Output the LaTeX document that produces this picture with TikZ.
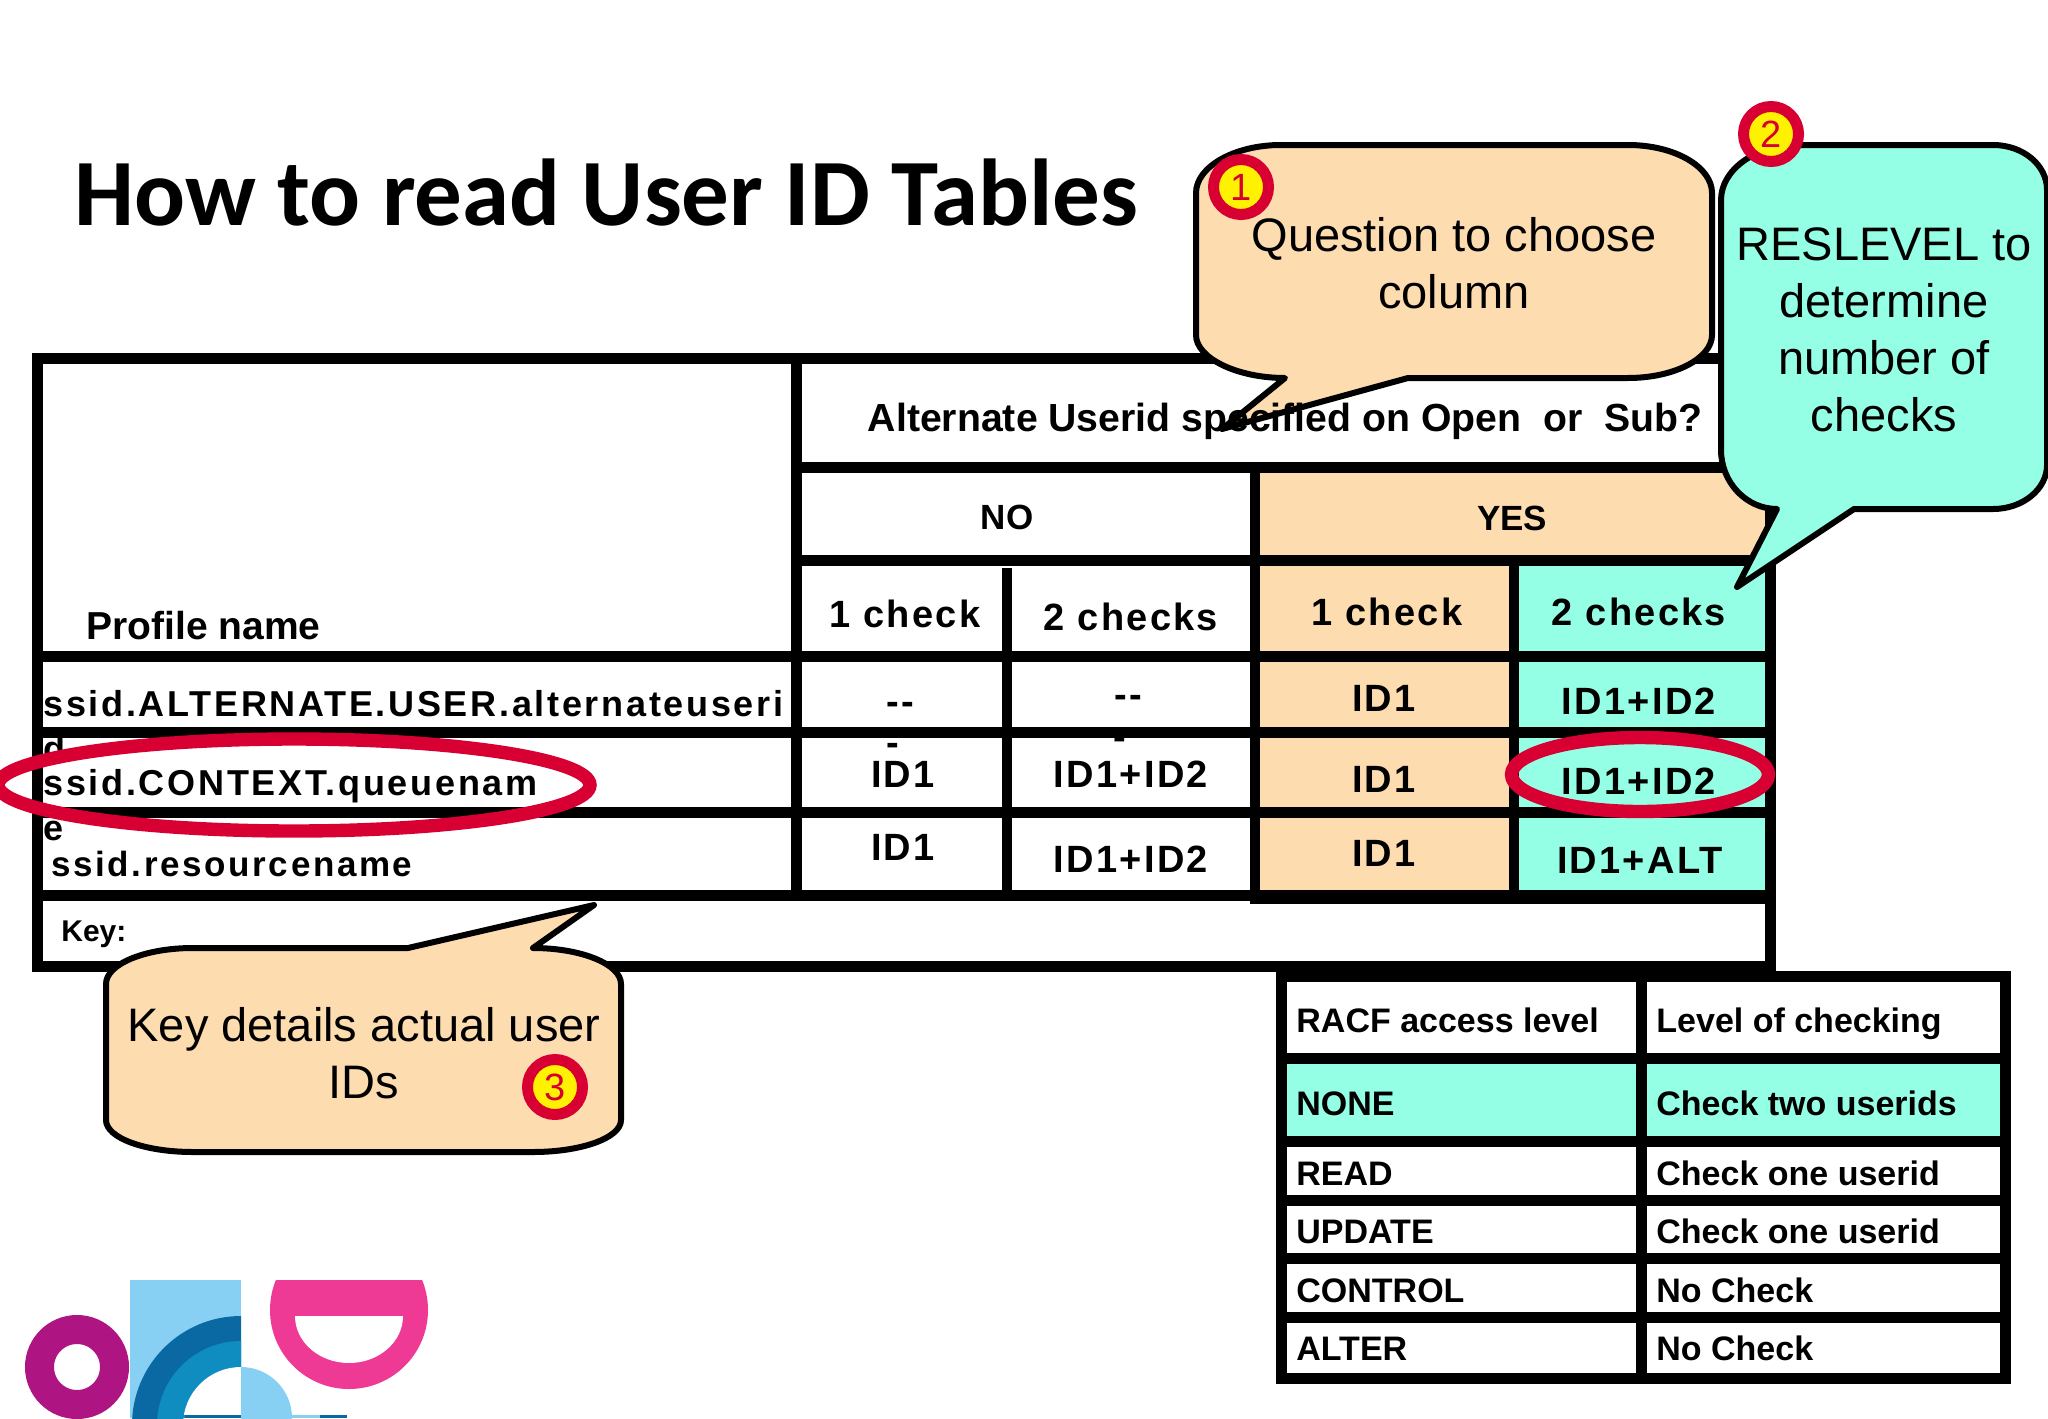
\documentclass[tikz,border=0pt]{standalone}
\usepackage{fontspec}
\usepackage{xcolor}
\newfontfamily\plainfont{Liberation Sans}
\newfontfamily\spacedfont[LetterSpace=6]{Liberation Sans}
\newfontfamily\widefont[LetterSpace=7.5]{Liberation Sans}
\newfontfamily\headfont{Carlito}
\definecolor{peach}{HTML}{FDDCB0}
\definecolor{aqua}{HTML}{94FFE4}
\definecolor{ringred}{HTML}{D80032}
\definecolor{logopurple}{HTML}{AE1583}
\definecolor{logopink}{HTML}{EE3A94}
\definecolor{logolight}{HTML}{87D0F3}
\definecolor{logodark}{HTML}{0A69A3}
\definecolor{logomid}{HTML}{0F8CC0}
\begin{document}
\begin{tikzpicture}[x=0.5pt, y=-0.5pt,
  every node/.style={inner sep=0pt, anchor=base, align=center},
  rule/.style={line width=5.5pt},
  thinrule/.style={line width=5pt},
  bubble/.style={draw, line width=3pt, line join=round},
  ring/.style={draw=ringred, line width=6.7pt},
  badge/.style={circle, anchor=center, draw=ringred, fill=yellow, line width=5.5pt, minimum size=27.5pt, text=ringred, font=\plainfont\fontsize{19}{19}\selectfont},
  cell/.style={font=\spacedfont\bfseries\fontsize{19}{19}\selectfont},
  label/.style={font=\plainfont\bfseries\fontsize{17.5}{17.5}\selectfont},
  keycell/.style={anchor=base west, font=\plainfont\bfseries\fontsize{17}{17}\selectfont},
  profile/.style={anchor=base west, font=\widefont\bfseries\fontsize{18}{18}\selectfont},
  note/.style={font=\plainfont\fontsize{23.5}{28.5}\selectfont}]
\useasboundingbox (0,0) rectangle (2048,1418);
\fill[white] (0,0) rectangle (2048,1418);

\node[font=\headfont\bfseries\fontsize{47.5}{47.5}\selectfont, anchor=base west] (title) at (74,225) {How to read User ID Tables};

\fill[peach] (1255,467) rectangle (1770,560);
\fill[peach] (1255,560) rectangle (1514,895);
\fill[aqua] (1514,560) rectangle (1770,895);
\draw[rule] (37,358) rectangle (1770,966);
\draw[rule] (796,467) -- (1770,467);
\draw[rule] (796,560) -- (1770,560);
\draw[rule] (37,656) -- (1770,656);
\draw[rule] (37,732) -- (1770,732);
\draw[rule] (37,812) -- (1770,812);
\draw[rule] (37,895) -- (1770,895);
\draw[rule] (1250,898) -- (1775,898);
\draw[rule] (796,358) -- (796,895);
\draw[thinrule] (1007,568) -- (1007,895);
\draw[thinrule] (1255,467) -- (1255,900);
\draw[thinrule] (1514,560) -- (1514,900);

\node[label, anchor=base west, font=\plainfont\bfseries\fontsize{19.5}{19.5}\selectfont] (profilename) at (86,639) {Profile name};
\node[profile] (altrow) at (43,716) {ssid.ALTERNATE.USER.alternateuseri};
\node[profile] (altwrap) at (43,761) {d};
\node[profile] (contextrow) at (43,795) {ssid.CONTEXT.queuenam};
\node[profile] (contextwrap) at (43,840) {e};
\node[profile, font=\widefont\bfseries\fontsize{17.5}{17.5}\selectfont] (resourcerow) at (51,876) {ssid.resourcename};
\node[font=\plainfont\bfseries\fontsize{15}{15}\selectfont, anchor=base west] (key) at (61,941) {Key:};

\node[label] (no) at (1007,529) {NO};
\node[label] (yes) at (1512,530) {YES};

\node[cell] (nocheckone) at (905,627) {1 check};
\node[cell] (nochecktwo) at (1131,630) {2 checks};
\node[cell] (yescheckone) at (1387,625) {1 check};
\node[cell] (yeschecktwo) at (1639,625) {2 checks};

\node[cell] (dashone) at (900,714) {-{}-};
\node[cell] (dashtwo) at (1128,707) {-{}-};
\node[cell] (dashonewrap) at (893,755) {-};
\node[cell] (dashtwowrap) at (1120,749) {-};
\node[cell] (altyesone) at (1384,711) {ID1};
\node[cell] (altyestwo) at (1639,714) {ID1+ID2};
\node[cell] (ctxnoone) at (903,787) {ID1};
\node[cell] (ctxnotwo) at (1131,787) {ID1+ID2};
\node[cell] (ctxyesone) at (1384,792) {ID1};
\node[cell] (ctxyestwo) at (1639,794) {ID1+ID2};
\node[cell] (resnoone) at (903,860) {ID1};
\node[cell] (resnotwo) at (1131,872) {ID1+ID2};
\node[cell] (resyesone) at (1384,866) {ID1};
\node[cell] (resyestwo) at (1640,873) {ID1+ALT};

\draw[ring] (294,785) ellipse [x radius=296, y radius=46];
\draw[ring] (1640,774.5) ellipse [x radius=128.5, y radius=37];

\fill[aqua] (1281,1058) rectangle (2005,1141);
\draw[rule] (1281.5,976) rectangle (2005,1378);
\draw[rule] (1281.5,1058.5) -- (2005,1058.5);
\draw[rule] (1281.5,1141) -- (2005,1141);
\draw[rule] (1281.5,1200) -- (2005,1200);
\draw[rule] (1281.5,1258) -- (2005,1258);
\draw[rule] (1281.5,1317) -- (2005,1317);
\draw[rule] (1641,976) -- (1641,1378);

\node[keycell] (racf) at (1296,1032) {RACF access level};
\node[keycell] (level) at (1656,1032) {Level of checking};
\node[keycell] (none) at (1296,1115) {NONE};
\node[keycell] (checktwo) at (1656,1115) {Check two userids};
\node[keycell] (read) at (1296,1185) {READ};
\node[keycell] (checkread) at (1656,1185) {Check one userid};
\node[keycell] (update) at (1296,1243) {UPDATE};
\node[keycell] (checkupdate) at (1656,1243) {Check one userid};
\node[keycell] (control) at (1296,1302) {CONTROL};
\node[keycell] (nocontrol) at (1656,1302) {No Check};
\node[keycell] (alter) at (1296,1360) {ALTER};
\node[keycell] (noalter) at (1656,1360) {No Check};

\draw[bubble, fill=peach] (1281,145) -- (1628,145) .. controls (1675,145) and (1712,167) .. (1712,193) -- (1712,335) .. controls (1712,358) and (1675,378) .. (1628,378) -- (1408,378) -- (1222,429) -- (1285,378) .. controls (1237,378) and (1196,358) .. (1196,335) -- (1196,193) .. controls (1196,167) and (1234,145) .. (1281,145) -- cycle;
\draw[bubble, fill=aqua] (1797,145) -- (1993,145) .. controls (2023,145) and (2047,165) .. (2047,190) -- (2047,465) .. controls (2047,489) and (2023,509) .. (1993,509) -- (1854,509) -- (1737,587) -- (1777,509) .. controls (1746,509) and (1721,482) .. (1721,450) -- (1721,200) .. controls (1721,170) and (1755,145) .. (1797,145) -- cycle;
\draw[bubble, fill=peach] (193,948) -- (408,948) -- (594,905) -- (533,948) .. controls (581,948) and (621,964) .. (621,984) -- (621,1120) .. controls (621,1138) and (581,1152) .. (533,1152) -- (193,1152) .. controls (145,1152) and (106,1138) .. (106,1120) -- (106,984) .. controls (106,964) and (145,948) .. (193,948) -- cycle;

\node[label, font=\plainfont\bfseries\fontsize{19.6}{19.6}\selectfont] (question) at (1285,431) {Alternate Userid specified on Open\ \ or\ \ Sub?};

\node[note] (noteone) at (1454,308) {Question to choose\\column};
\node[note] (notetwo) at (1884,431) {RESLEVEL to\\determine\\number of\\checks};
\node[note] (notethree) at (364,1098) {Key details actual user\\IDs};

\node[badge] (badgeone) at (1241,187) {1};
\node[badge] (badgetwo) at (1771,134) {2};
\node[badge] (badgethree) at (555,1087) {3};

\draw[logopurple, line width=14.5pt] (77,1367) circle (37.5);
\fill[logolight] (130,1280) rectangle (241,1418);
\begin{scope}
\clip (130,1280) rectangle (241,1418);
\fill[logodark] (241,1425) circle (109);
\fill[logomid] (241,1425) circle (84);
\fill[white] (241,1425) circle (58);
\end{scope}
\begin{scope}
\clip (241,1280) rectangle (300,1418);
\fill[logolight] (241,1418) circle (51);
\end{scope}
\begin{scope}
\clip (260,1280) rectangle (440,1418);
\fill[logopink] (349,1310) circle (79);
\clip (290,1316) rectangle (410,1400);
\fill[white] (349,1316) ellipse [x radius=54, y radius=47];
\end{scope}
\fill[logomid] (160,1415) rectangle (185,1418);
\fill[logodark] (185,1415) rectangle (241,1418);
\fill[logolight] (292,1415) rectangle (320,1418);
\fill[logodark] (320,1415) rectangle (347,1418);
\end{tikzpicture}
\end{document}
